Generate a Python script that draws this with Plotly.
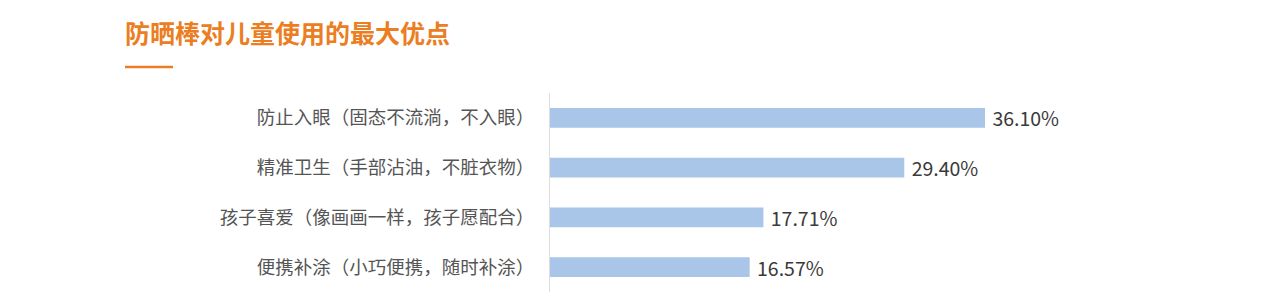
import plotly.graph_objects as go

categories = ["防止入眼（固态不流淌，不入眼）", "精准卫生（手部沾油，不脏衣物）",
              "孩子喜爱（像画画一样，孩子愿配合）", "便携补涂（小巧便携，随时补涂）"]
values = [36.10, 29.40, 17.71, 16.57]
labels = ["36.10%", "29.40%", "17.71%", "16.57%"]
title_text = "防晒棒对儿童使用的最大优点"

FONT = "Noto Sans CJK SC"
ORANGE = "#EB7D22"

fig = go.Figure(go.Bar(
    y=categories, x=values, orientation="h",
    marker=dict(color="#A9C5E7", line=dict(width=0)),
    width=0.4,
    text=[" " + t for t in labels], textposition="outside", cliponaxis=False,
    constraintext="none",
    textfont=dict(family=FONT, size=19.5, color="#3A3A3A"),
))

fig.update_layout(
    width=1270, height=305,
    margin=dict(l=550, r=238, t=93, b=13),
    paper_bgcolor="white", plot_bgcolor="white",
    showlegend=False,
    font=dict(family=FONT),
    xaxis=dict(range=[0, 40], visible=False),
    yaxis=dict(autorange="reversed", showline=True, linecolor="#DDDDDD", linewidth=1,
               ticks="", showgrid=False, ticklabelstandoff=11,
               tickfont=dict(family=FONT, size=18.5, color="#555555")),
    annotations=[dict(text="<b>" + title_text + "</b>", xref="paper", yref="paper",
                      x=(123 - 550) / 482, y=1 + (93 - 32) / 199, xanchor="left", yanchor="middle",
                      showarrow=False, font=dict(family=FONT, size=25, color=ORANGE))],
    shapes=[dict(type="line", xref="paper", yref="paper",
                 x0=(125 - 550) / 482, x1=(173 - 550) / 482,
                 y0=1 + (93 - 67) / 199, y1=1 + (93 - 67) / 199,
                 line=dict(color=ORANGE, width=2.5))],
)

fig.write_html("out.html")
